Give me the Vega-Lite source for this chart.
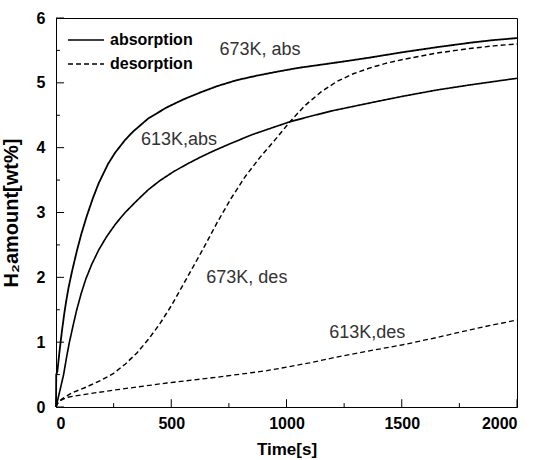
{
  "$schema": "https://vega.github.io/schema/vega-lite/v6.json",
  "width": 461,
  "height": 389,
  "autosize": "none",
  "padding": {"left": 56, "top": 18, "right": 19, "bottom": 53},
  "background": "white",
  "config": {
    "view": {"stroke": "black", "strokeWidth": 1},
    "font": "Liberation Sans",
    "axis": {
      "domainColor": "black",
      "ticks": false,
      "grid": false,
      "labelFont": "Liberation Sans",
      "labelFontWeight": "bold",
      "labelFontSize": 16,
      "labelColor": "black",
      "titleFont": "Liberation Sans",
      "titleFontWeight": "bold",
      "titleColor": "black"
    }
  },
  "datasets": {
    "curves": [
      {"series": "673K abs", "type": "absorption", "t": 0, "v": 0},
      {"series": "673K abs", "type": "absorption", "t": 1, "v": 0.5},
      {"series": "673K abs", "type": "absorption", "t": 6, "v": 0.55},
      {"series": "673K abs", "type": "absorption", "t": 15, "v": 0.85},
      {"series": "673K abs", "type": "absorption", "t": 25, "v": 1.15},
      {"series": "673K abs", "type": "absorption", "t": 35, "v": 1.42},
      {"series": "673K abs", "type": "absorption", "t": 45, "v": 1.65},
      {"series": "673K abs", "type": "absorption", "t": 55, "v": 1.85},
      {"series": "673K abs", "type": "absorption", "t": 70, "v": 2.1},
      {"series": "673K abs", "type": "absorption", "t": 90, "v": 2.4},
      {"series": "673K abs", "type": "absorption", "t": 110, "v": 2.67},
      {"series": "673K abs", "type": "absorption", "t": 134, "v": 2.95},
      {"series": "673K abs", "type": "absorption", "t": 160, "v": 3.22},
      {"series": "673K abs", "type": "absorption", "t": 185, "v": 3.45},
      {"series": "673K abs", "type": "absorption", "t": 226, "v": 3.75},
      {"series": "673K abs", "type": "absorption", "t": 256, "v": 3.92},
      {"series": "673K abs", "type": "absorption", "t": 300, "v": 4.12},
      {"series": "673K abs", "type": "absorption", "t": 335, "v": 4.25},
      {"series": "673K abs", "type": "absorption", "t": 400, "v": 4.45},
      {"series": "673K abs", "type": "absorption", "t": 480, "v": 4.62},
      {"series": "673K abs", "type": "absorption", "t": 550, "v": 4.74},
      {"series": "673K abs", "type": "absorption", "t": 625, "v": 4.85},
      {"series": "673K abs", "type": "absorption", "t": 700, "v": 4.95},
      {"series": "673K abs", "type": "absorption", "t": 783, "v": 5.04},
      {"series": "673K abs", "type": "absorption", "t": 870, "v": 5.11},
      {"series": "673K abs", "type": "absorption", "t": 957, "v": 5.17},
      {"series": "673K abs", "type": "absorption", "t": 1050, "v": 5.23},
      {"series": "673K abs", "type": "absorption", "t": 1150, "v": 5.28},
      {"series": "673K abs", "type": "absorption", "t": 1250, "v": 5.33},
      {"series": "673K abs", "type": "absorption", "t": 1362, "v": 5.39},
      {"series": "673K abs", "type": "absorption", "t": 1500, "v": 5.47},
      {"series": "673K abs", "type": "absorption", "t": 1653, "v": 5.55},
      {"series": "673K abs", "type": "absorption", "t": 1800, "v": 5.62},
      {"series": "673K abs", "type": "absorption", "t": 1900, "v": 5.66},
      {"series": "673K abs", "type": "absorption", "t": 2000, "v": 5.69},
      {"series": "613K abs", "type": "absorption", "t": 0, "v": 0},
      {"series": "613K abs", "type": "absorption", "t": 10, "v": 0.15},
      {"series": "613K abs", "type": "absorption", "t": 20, "v": 0.3},
      {"series": "613K abs", "type": "absorption", "t": 33, "v": 0.5},
      {"series": "613K abs", "type": "absorption", "t": 45, "v": 0.75},
      {"series": "613K abs", "type": "absorption", "t": 57, "v": 0.98},
      {"series": "613K abs", "type": "absorption", "t": 75, "v": 1.27},
      {"series": "613K abs", "type": "absorption", "t": 90, "v": 1.5},
      {"series": "613K abs", "type": "absorption", "t": 110, "v": 1.76},
      {"series": "613K abs", "type": "absorption", "t": 130, "v": 1.98},
      {"series": "613K abs", "type": "absorption", "t": 155, "v": 2.2},
      {"series": "613K abs", "type": "absorption", "t": 185, "v": 2.42},
      {"series": "613K abs", "type": "absorption", "t": 220, "v": 2.63},
      {"series": "613K abs", "type": "absorption", "t": 260, "v": 2.83},
      {"series": "613K abs", "type": "absorption", "t": 300, "v": 3.0},
      {"series": "613K abs", "type": "absorption", "t": 350, "v": 3.18},
      {"series": "613K abs", "type": "absorption", "t": 400, "v": 3.35},
      {"series": "613K abs", "type": "absorption", "t": 450, "v": 3.49},
      {"series": "613K abs", "type": "absorption", "t": 510, "v": 3.63},
      {"series": "613K abs", "type": "absorption", "t": 570, "v": 3.75},
      {"series": "613K abs", "type": "absorption", "t": 630, "v": 3.86},
      {"series": "613K abs", "type": "absorption", "t": 690, "v": 3.96},
      {"series": "613K abs", "type": "absorption", "t": 755, "v": 4.06},
      {"series": "613K abs", "type": "absorption", "t": 850, "v": 4.2},
      {"series": "613K abs", "type": "absorption", "t": 957, "v": 4.33},
      {"series": "613K abs", "type": "absorption", "t": 1015, "v": 4.4},
      {"series": "613K abs", "type": "absorption", "t": 1100, "v": 4.48},
      {"series": "613K abs", "type": "absorption", "t": 1200, "v": 4.57},
      {"series": "613K abs", "type": "absorption", "t": 1362, "v": 4.69},
      {"series": "613K abs", "type": "absorption", "t": 1500, "v": 4.79},
      {"series": "613K abs", "type": "absorption", "t": 1653, "v": 4.89},
      {"series": "613K abs", "type": "absorption", "t": 1800, "v": 4.97},
      {"series": "613K abs", "type": "absorption", "t": 1900, "v": 5.02},
      {"series": "613K abs", "type": "absorption", "t": 2000, "v": 5.07},
      {"series": "673K des", "type": "desorption", "t": 0, "v": 0},
      {"series": "673K des", "type": "desorption", "t": 10, "v": 0.08},
      {"series": "673K des", "type": "desorption", "t": 33, "v": 0.14},
      {"series": "673K des", "type": "desorption", "t": 70, "v": 0.22},
      {"series": "673K des", "type": "desorption", "t": 127, "v": 0.3},
      {"series": "673K des", "type": "desorption", "t": 200, "v": 0.42},
      {"series": "673K des", "type": "desorption", "t": 250, "v": 0.52},
      {"series": "673K des", "type": "desorption", "t": 300, "v": 0.66},
      {"series": "673K des", "type": "desorption", "t": 350, "v": 0.83},
      {"series": "673K des", "type": "desorption", "t": 400, "v": 1.04},
      {"series": "673K des", "type": "desorption", "t": 450, "v": 1.28},
      {"series": "673K des", "type": "desorption", "t": 500, "v": 1.56},
      {"series": "673K des", "type": "desorption", "t": 568, "v": 1.99},
      {"series": "673K des", "type": "desorption", "t": 640, "v": 2.45},
      {"series": "673K des", "type": "desorption", "t": 700, "v": 2.85},
      {"series": "673K des", "type": "desorption", "t": 760, "v": 3.22},
      {"series": "673K des", "type": "desorption", "t": 820, "v": 3.55},
      {"series": "673K des", "type": "desorption", "t": 885, "v": 3.85},
      {"series": "673K des", "type": "desorption", "t": 950, "v": 4.12},
      {"series": "673K des", "type": "desorption", "t": 1015, "v": 4.4},
      {"series": "673K des", "type": "desorption", "t": 1080, "v": 4.65},
      {"series": "673K des", "type": "desorption", "t": 1150, "v": 4.86},
      {"series": "673K des", "type": "desorption", "t": 1218, "v": 5.02},
      {"series": "673K des", "type": "desorption", "t": 1290, "v": 5.14},
      {"series": "673K des", "type": "desorption", "t": 1362, "v": 5.23},
      {"series": "673K des", "type": "desorption", "t": 1430, "v": 5.3},
      {"series": "673K des", "type": "desorption", "t": 1505, "v": 5.36},
      {"series": "673K des", "type": "desorption", "t": 1580, "v": 5.41},
      {"series": "673K des", "type": "desorption", "t": 1653, "v": 5.46},
      {"series": "673K des", "type": "desorption", "t": 1796, "v": 5.53},
      {"series": "673K des", "type": "desorption", "t": 1900, "v": 5.57},
      {"series": "673K des", "type": "desorption", "t": 2000, "v": 5.6},
      {"series": "613K des", "type": "desorption", "t": 0, "v": 0},
      {"series": "613K des", "type": "desorption", "t": 5, "v": 0.05},
      {"series": "613K des", "type": "desorption", "t": 20, "v": 0.1},
      {"series": "613K des", "type": "desorption", "t": 50, "v": 0.15},
      {"series": "613K des", "type": "desorption", "t": 117, "v": 0.19},
      {"series": "613K des", "type": "desorption", "t": 250, "v": 0.26},
      {"series": "613K des", "type": "desorption", "t": 481, "v": 0.37},
      {"series": "613K des", "type": "desorption", "t": 700, "v": 0.46},
      {"series": "613K des", "type": "desorption", "t": 915, "v": 0.56},
      {"series": "613K des", "type": "desorption", "t": 1100, "v": 0.68},
      {"series": "613K des", "type": "desorption", "t": 1218, "v": 0.77},
      {"series": "613K des", "type": "desorption", "t": 1350, "v": 0.86},
      {"series": "613K des", "type": "desorption", "t": 1505, "v": 0.96},
      {"series": "613K des", "type": "desorption", "t": 1650, "v": 1.07},
      {"series": "613K des", "type": "desorption", "t": 1796, "v": 1.19},
      {"series": "613K des", "type": "desorption", "t": 1900, "v": 1.27},
      {"series": "613K des", "type": "desorption", "t": 2000, "v": 1.34}
    ],
    "labels": [
      {"label": "673K, abs", "t": 885, "v": 5.51},
      {"label": "613K,abs", "t": 534, "v": 4.12},
      {"label": "673K, des", "t": 828, "v": 1.99},
      {"label": "613K,des", "t": 1350, "v": 1.14}
    ],
    "xticks": [
      {"t": 0, "v0": 0, "v1": 0.12}, {"t": 250, "v0": 0, "v1": 0.06}, {"t": 500, "v0": 0, "v1": 0.12},
      {"t": 750, "v0": 0, "v1": 0.06}, {"t": 1000, "v0": 0, "v1": 0.12}, {"t": 1250, "v0": 0, "v1": 0.06},
      {"t": 1500, "v0": 0, "v1": 0.12}, {"t": 1750, "v0": 0, "v1": 0.06}, {"t": 2000, "v0": 0, "v1": 0.12}
    ],
    "yticks": [
      {"v": 0, "t0": 0, "t1": 35}, {"v": 0.5, "t0": 0, "t1": 17}, {"v": 1, "t0": 0, "t1": 35},
      {"v": 1.5, "t0": 0, "t1": 17}, {"v": 2, "t0": 0, "t1": 35}, {"v": 2.5, "t0": 0, "t1": 17},
      {"v": 3, "t0": 0, "t1": 35}, {"v": 3.5, "t0": 0, "t1": 17}, {"v": 4, "t0": 0, "t1": 35},
      {"v": 4.5, "t0": 0, "t1": 17}, {"v": 5, "t0": 0, "t1": 35}, {"v": 5.5, "t0": 0, "t1": 17},
      {"v": 6, "t0": 0, "t1": 35}
    ]
  },
  "layer": [
    {
      "data": {"name": "curves"},
      "mark": {"type": "line", "color": "black", "strokeCap": "butt"},
      "encoding": {
        "x": {
          "field": "t", "type": "quantitative",
          "scale": {"domain": [0, 2000], "nice": false},
          "axis": {
            "title": "Time[s]",
            "titleFontSize": 17,
            "values": [0, 500, 1000, 1500, 2000],
            "format": "d",
            "labelPadding": 8,
            "titlePadding": 10
          }
        },
        "y": {
          "field": "v", "type": "quantitative",
          "scale": {"domain": [0, 6], "nice": false},
          "axis": {
            "title": "H₂amount[wt%]",
            "titleFontSize": 20,
            "values": [0, 1, 2, 3, 4, 5, 6],
            "format": "d",
            "labelPadding": 11,
            "titlePadding": 15
          }
        },
        "detail": {"field": "series"},
        "strokeDash": {
          "field": "type", "type": "nominal",
          "scale": {"domain": ["absorption", "desorption"], "range": [[1, 0], [5, 3]]},
          "legend": {
            "title": null,
            "orient": "none",
            "legendX": 21,
            "legendY": 13,
            "padding": 0,
            "symbolType": "M-2.25,0H2.25",
            "symbolSize": 256,
            "symbolStrokeWidth": 1.5,
            "symbolStrokeColor": "black",
            "labelFontSize": 16,
            "labelFontWeight": "bold",
            "labelColor": "black",
            "labelFont": "Liberation Sans",
            "labelOffset": 15,
            "rowPadding": 7
          }
        },
        "strokeWidth": {
          "field": "series", "type": "nominal",
          "scale": {"domain": ["673K abs", "613K abs", "673K des", "613K des"], "range": [1.8, 1.3, 1.4, 1.6]},
          "legend": null
        }
      }
    },
    {
      "data": {"name": "labels"},
      "mark": {"type": "text", "font": "Liberation Sans", "fontSize": 18, "color": "#333333", "align": "center", "baseline": "middle"},
      "encoding": {
        "x": {"field": "t", "type": "quantitative"},
        "y": {"field": "v", "type": "quantitative"},
        "text": {"field": "label"}
      }
    },
    {
      "data": {"name": "xticks"},
      "mark": {"type": "rule", "color": "black", "strokeWidth": 1},
      "encoding": {
        "x": {"field": "t", "type": "quantitative"},
        "y": {"field": "v0", "type": "quantitative"},
        "y2": {"field": "v1"}
      }
    },
    {
      "data": {"name": "yticks"},
      "mark": {"type": "rule", "color": "black", "strokeWidth": 1},
      "encoding": {
        "y": {"field": "v", "type": "quantitative"},
        "x": {"field": "t0", "type": "quantitative"},
        "x2": {"field": "t1"}
      }
    }
  ]
}
